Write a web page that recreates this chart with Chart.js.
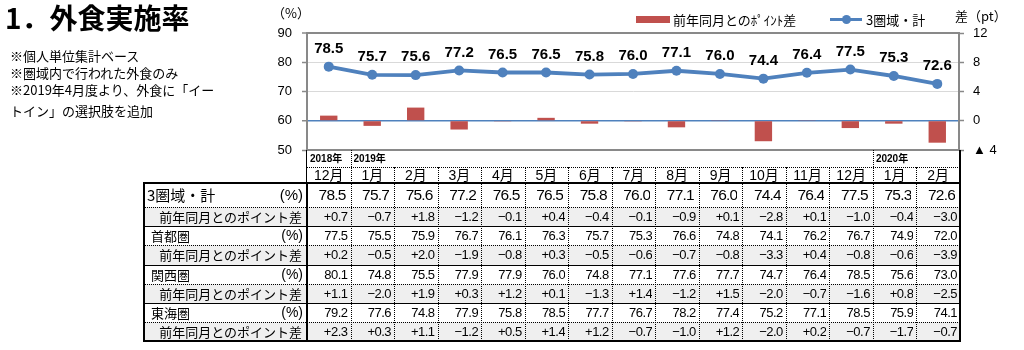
<!DOCTYPE html>
<html>
<head>
<meta charset="utf-8">
<script src="https://cdn.jsdelivr.net/npm/chart.js@4.4.1/dist/chart.umd.min.js"></script>
<style>
  body { margin: 0; background: #fff; font-family: "Liberation Sans", "Noto Sans CJK JP", sans-serif; }
  #wrap { position: relative; width: 1024px; height: 350px; overflow: hidden; }
  #chart { position: absolute; left: 0; top: 0; }
  .abs { position: absolute; white-space: nowrap; color: #000; }
  .jp { font-family: "Noto Sans CJK JP", sans-serif; }
  .cell { position: absolute; white-space: nowrap; overflow: hidden; color: #000; }
  .hl { position: absolute; height: 0; }
  .vl { position: absolute; width: 0; }
</style>
</head>
<body>
<div id="wrap">
  <canvas id="chart" width="1024" height="350"></canvas>
  <div class="abs jp" style="left:5px; top:-3px; font-size:28px; font-weight:bold;">1．外食実施率</div>
  <div class="abs jp" style="left:10px; top:47px; font-size:13px; line-height:17px;">※個人単位集計ベース<br>※圏域内で行われた外食のみ<br>※2019年4月度より、外食に「イー</div>
  <div class="abs jp" style="left:10px; top:101px; font-size:13px;">トイン」の選択肢を追加</div>
  <div class="abs jp" style="left:272px; top:3px; font-size:13px;">（%）</div>
  <div class="abs jp" style="left:955px; top:6px; font-size:13px;">差（pt）</div>
  <div id="legend"></div>
  <div id="tbl"></div>
</div>
<script>
const months = ["12月", "1月", "2月", "3月", "4月", "5月", "6月", "7月", "8月", "9月", "10月", "11月", "12月", "1月", "2月"];
const years = ["2018年", "2019年", "2020年"];
const yearSpans = [1, 12, 2];

const total = [78.5, 75.7, 75.6, 77.2, 76.5, 76.5, 75.8, 76.0, 77.1, 76.0, 74.4, 76.4, 77.5, 75.3, 72.6];
const totalDiff = [0.7, -0.7, 1.8, -1.2, -0.1, 0.4, -0.4, -0.1, -0.9, 0.1, -2.8, 0.1, -1.0, -0.4, -3.0];
const shutoken = [77.5, 75.5, 75.9, 76.7, 76.1, 76.3, 75.7, 75.3, 76.6, 74.8, 74.1, 76.2, 76.7, 74.9, 72.0];
const shutokenDiff = [0.2, -0.5, 2.0, -1.9, -0.8, 0.3, -0.5, -0.6, -0.7, -0.8, -3.3, 0.4, -0.8, -0.6, -3.9];
const kansai = [80.1, 74.8, 75.5, 77.9, 77.9, 76.0, 74.8, 77.1, 77.6, 77.7, 74.7, 76.4, 78.5, 75.6, 73.0];
const kansaiDiff = [1.1, -2.0, 1.9, 0.3, 1.2, 0.1, -1.3, 1.4, -1.2, 1.5, -2.0, -0.7, -1.6, 0.8, -2.5];
const tokai = [79.2, 77.6, 74.8, 77.9, 75.8, 78.5, 77.7, 76.7, 78.2, 77.4, 75.2, 77.1, 78.5, 75.9, 74.1];
const tokaiDiff = [2.3, 0.3, 1.1, -1.2, 0.5, 1.4, 1.2, -0.7, -1.0, 1.2, -2.0, 0.2, -0.7, -1.7, -0.7];

const barLabel = "前年同月とのﾎﾟｲﾝﾄ差";
const lineLabel = "3圏域・計";
const diffRowLabel = "前年同月とのポイント差";

const blue = "#4f81bd";
const red = "#c0504d";
const axisGray = "#898989";

// legend (html, placed over the chart)
document.getElementById("legend").innerHTML =
  '<div class="abs" style="left:636px; top:16px; width:34px; height:7px; background:' + red + ';"></div>' +
  '<div class="abs jp" style="left:673px; top:10px; font-size:13px;">' + barLabel + '</div>' +
  '<div class="abs" style="left:830px; top:18px; width:32px; height:3px; background:' + blue + ';"></div>' +
  '<div class="abs" style="left:842px; top:15px; width:9px; height:9px; border-radius:50%; background:' + blue + ';"></div>' +
  '<div class="abs jp" style="left:866px; top:10px; font-size:13px;">' + lineLabel + '</div>';

// value labels above the line points
const valueLabels = {
  id: "valueLabels",
  afterDatasetsDraw(chart) {
    const ctx = chart.ctx;
    const meta = chart.getDatasetMeta(0);
    ctx.save();
    ctx.font = 'bold 15px "Liberation Sans"';
    ctx.fillStyle = "#000";
    ctx.textAlign = "center";
    ctx.textBaseline = "middle";
    meta.data.forEach((pt, i) => {
      ctx.fillText(total[i].toFixed(1), pt.x, pt.y - 18);
    });
    ctx.restore();
  }
};

new Chart(document.getElementById("chart").getContext("2d"), {
  type: "bar",
  data: {
    labels: months,
    datasets: [
      {
        type: "line",
        label: lineLabel,
        data: total,
        yAxisID: "y",
        borderColor: blue,
        backgroundColor: blue,
        borderWidth: 3.8,
        pointRadius: 5,
        pointBackgroundColor: blue,
        pointBorderWidth: 0,
        tension: 0,
        order: 0
      },
      {
        type: "bar",
        label: barLabel,
        data: totalDiff,
        yAxisID: "y1",
        backgroundColor: red,
        barPercentage: 0.4,
        categoryPercentage: 1,
        order: 1
      }
    ]
  },
  options: {
    responsive: false,
    animation: false,
    devicePixelRatio: 1,
    layout: { padding: { top: 33, bottom: 200, left: 0, right: 0 } },
    plugins: {
      legend: { display: false },
      tooltip: { enabled: false }
    },
    scales: {
      x: {
        grid: { display: false, drawTicks: false },
        ticks: { display: false },
        border: { color: axisGray, width: 2 },
        afterFit(s) { s.height = 0; }
      },
      y: {
        position: "left",
        min: 50,
        max: 90,
        ticks: { stepSize: 10, color: "#000", padding: 10, font: { size: 13, family: "Liberation Sans" } },
        grid: {
          color: ctx => ctx.tick.value === 60 ? blue : (ctx.tick.value === 90 ? axisGray : (ctx.tick.value === 50 ? "rgba(0,0,0,0)" : "#d9d9d9")),
          lineWidth: ctx => ctx.tick.value === 90 ? 2 : (ctx.tick.value === 60 ? 1.5 : 1),
          tickLength: 5,
          tickColor: axisGray,
          tickWidth: 1.5
        },
        border: { color: axisGray, width: 2 },
        afterFit(s) { s.width = 307; }
      },
      y1: {
        position: "right",
        min: -4,
        max: 12,
        ticks: {
          stepSize: 4,
          color: "#000",
          padding: 9,
          font: { size: 13, family: "Liberation Sans" },
          callback: v => v < 0 ? "▲ " + (-v) : v
        },
        grid: { drawOnChartArea: false, tickLength: 5, tickColor: axisGray, tickWidth: 1.5 },
        border: { color: axisGray, width: 2 },
        afterFit(s) { s.width = 65; }
      }
    }
  },
  plugins: [valueLabels]
});

// table under the chart, built from absolutely placed cells and rules
function fmtDiff(v) {
  if (v > 0) return "+" + v.toFixed(1);
  if (v < 0) return "−" + Math.abs(v).toFixed(1);
  return "0.0";
}

const rows = [
  { name: "3圏域・計", values: total, diffs: totalDiff },
  { name: "首都圏", values: shutoken, diffs: shutokenDiff },
  { name: "関西圏", values: kansai, diffs: kansaiDiff },
  { name: "東海圏", values: tokai, diffs: tokaiDiff }
];

const tblLeft = 143, dataLeft = 307, tblRight = 960;
const colW = (tblRight - dataLeft) / months.length;
const yearTop = 150, monthTop = 167, bodyTop = 183;
const rowH = [24, 19, 19, 20, 19, 19, 19, 19];
const rowTops = [];
let yy = bodyTop;
rowH.forEach(h => { rowTops.push(yy); yy += h; });
const bodyBottom = yy;

let out = "";
function cell(x, y, w, h, text, style) {
  out += '<div class="cell" style="left:' + x + 'px; top:' + y + 'px; width:' + w + 'px; height:' + h + 'px; line-height:' + h + 'px;' + (style || "") + '">' + text + "</div>";
}
function hline(x1, x2, y, border) {
  out += '<div class="hl" style="left:' + x1 + 'px; top:' + y + 'px; width:' + (x2 - x1) + 'px; border-top:' + border + ';"></div>';
}
function vline(x, y1, y2, border) {
  out += '<div class="vl" style="left:' + x + 'px; top:' + y1 + 'px; height:' + (y2 - y1) + 'px; border-left:' + border + ';"></div>';
}

// diff row shading
rows.forEach((r, ri) => {
  const t = rowTops[ri * 2 + 1];
  out += '<div class="abs" style="left:' + tblLeft + 'px; top:' + t + 'px; width:' + (tblRight - tblLeft) + 'px; height:' + rowH[ri * 2 + 1] + 'px; background:#efefef;"></div>';
});

// year row
let c = 0;
years.forEach((y, i) => {
  cell(dataLeft + c * colW + 3, yearTop + 1, yearSpans[i] * colW - 4, 15, y, "font-size:10px; font-weight:bold; line-height:15px;");
  if (i > 0) vline(dataLeft + c * colW, yearTop, monthTop, "1px dotted #000");
  c += yearSpans[i];
});
hline(dataLeft, tblRight, monthTop, "1px dotted #000");

// month row
months.forEach((m, i) => {
  cell(dataLeft + i * colW, monthTop, colW, bodyTop - monthTop, m, "text-align:center; font-size:14px;");
});

// body rows
rows.forEach((r, ri) => {
  const tMain = rowTops[ri * 2], hMain = rowH[ri * 2];
  const tDiff = rowTops[ri * 2 + 1], hDiff = rowH[ri * 2 + 1];
  const big = ri === 0;
  cell(tblLeft + (big ? 4 : 8), tMain, 100, hMain, r.name, "font-family:'Noto Sans CJK JP'; font-size:" + (big ? 15 : 13) + "px;");
  cell(dataLeft - 34, tMain, 30, hMain, "(%)", "text-align:right; font-size:" + (big ? 15 : 14) + "px;");
  cell(tblLeft + 4, tDiff, dataLeft - tblLeft - 9, hDiff, diffRowLabel, "text-align:right; font-family:'Noto Sans CJK JP'; font-size:13px;");
  r.values.forEach((v, i) => {
    cell(dataLeft + i * colW, tMain, colW - (big ? 5 : 3), hMain, v.toFixed(1),
      "text-align:right; font-size:" + (big ? "15.5px; letter-spacing:-0.8px;" : "13px; letter-spacing:-0.5px;"));
  });
  r.diffs.forEach((v, i) => {
    cell(dataLeft + i * colW, tDiff, colW - 3, hDiff, fmtDiff(v), "text-align:right; font-size:13px; letter-spacing:-0.5px;");
  });
  // rules
  hline(tblLeft, tblRight, tDiff, "1px dotted #000");
  if (ri > 0) hline(tblLeft, tblRight, tMain, (ri === 1 ? "1.5px" : "1px") + " solid #000");
});

// column separators
for (let i = 1; i < months.length; i++) {
  vline(dataLeft + i * colW, monthTop, bodyBottom, "1px dotted #000");
}
// outer frame
hline(tblLeft, tblRight + 1, bodyTop - 1, "2px solid #000");
hline(tblLeft, tblRight + 1, bodyBottom - 1, "2px solid #000");
vline(tblLeft, bodyTop - 1, bodyBottom + 1, "2px solid #000");
vline(dataLeft - 1, bodyTop - 1, bodyBottom + 1, "2px solid #000");
vline(dataLeft - 1, yearTop, bodyTop, "1.5px solid #000");
vline(tblRight - 1, yearTop, bodyBottom + 1, "2px solid #000");

document.getElementById("tbl").innerHTML = out;
</script>
</body>
</html>
